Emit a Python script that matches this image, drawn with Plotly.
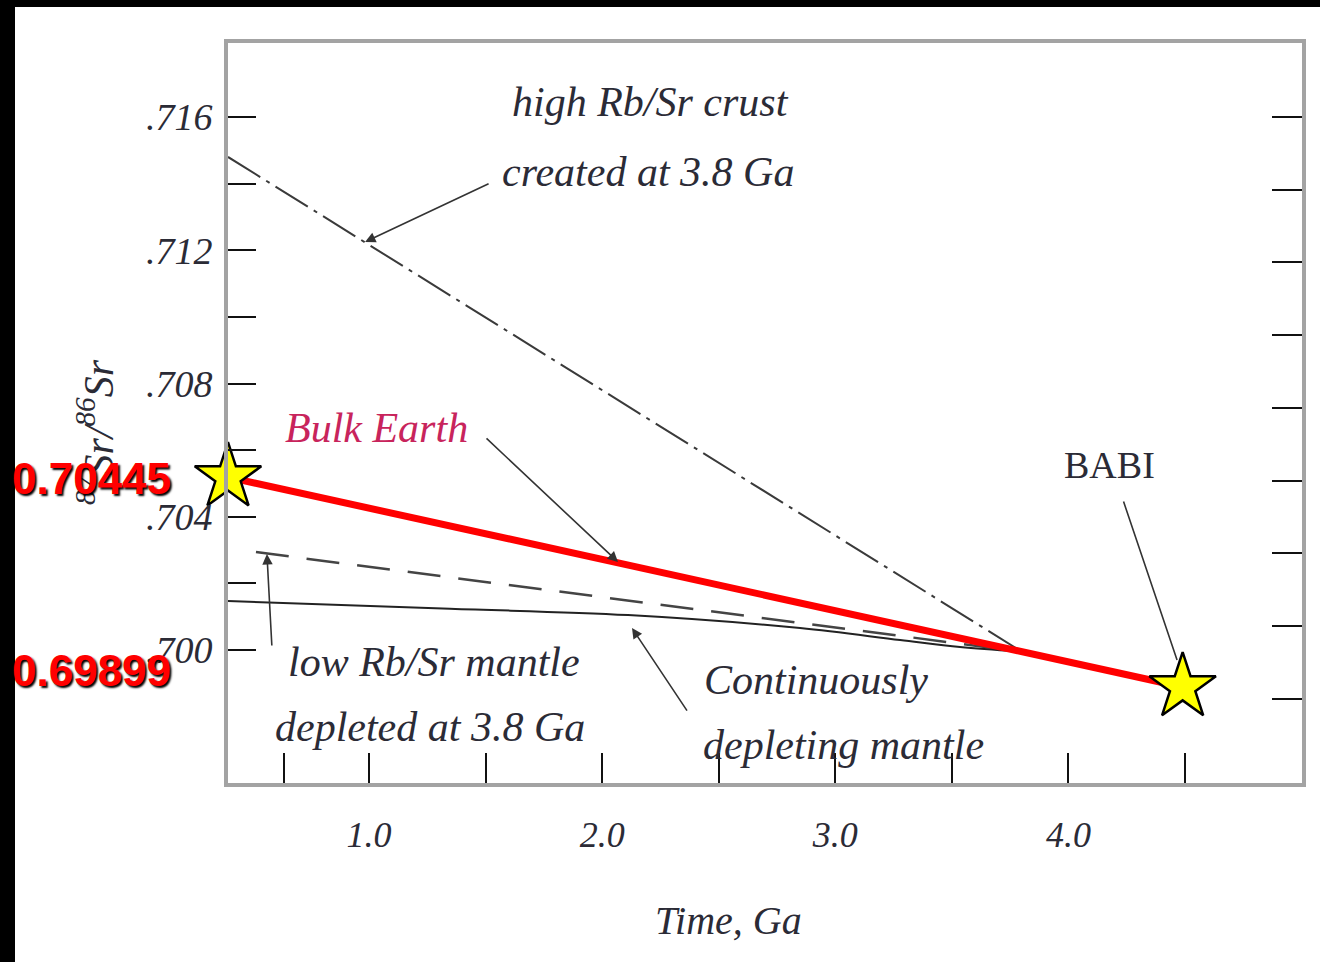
import plotly.graph_objects as go

# ---------------- data ----------------
crust_time = [0.395, 3.8]
crust_sr = [0.71480, 0.69995]

depleted_time = [0.515, 3.8]
depleted_sr = [0.70294, 0.69995]

cont_time = [0.395, 1.347, 2.111, 2.849, 3.278, 3.535, 3.8]
cont_sr = [0.70147, 0.70124, 0.70105, 0.70066, 0.70030, 0.70009, 0.69995]

bulk_time = [0.395, 4.49]
bulk_sr = [0.70519, 0.69889]
bulk_labels = ["0.70445", "0.69899"]

y_tickvals = [0.716, 0.714, 0.712, 0.710, 0.708, 0.706, 0.704, 0.702, 0.700]
y_ticktext = [".716", "", ".712", "", ".708", "", ".704", "", ".700"]
x_tickvals = [0.635, 1.0, 1.5, 2.0, 2.5, 3.0, 3.5, 4.0, 4.5]
x_ticktext = ["", "1.0", "", "2.0", "", "3.0", "", "4.0", ""]
right_tickvals = [0, 1, 2, 3, 4, 5, 6, 7, 8]

# ---------------- layout helpers ----------------
W, H = 1320, 962
L, R, T, B = 228, 1302, 43, 783


def px(x):
    return (x - L) / (R - L)


def py(y):
    return (B - y) / (B - T)


SERIF = "Liberation Serif"
INK = "#2b2b36"
ital = dict(family=SERIF, style="italic", color=INK)

fig = go.Figure()

fig.add_trace(go.Scatter(x=crust_time, y=crust_sr, mode="lines",
                         line=dict(color="#3a3a3a", width=2, dash="38px,7px,4px,7px"),
                         showlegend=False, hoverinfo="skip"))
fig.add_trace(go.Scatter(x=depleted_time, y=depleted_sr, mode="lines",
                         line=dict(color="#444444", width=2.5, dash="33px,18px"),
                         showlegend=False, hoverinfo="skip"))
fig.add_trace(go.Scatter(x=cont_time, y=cont_sr, mode="lines",
                         line=dict(color="#222222", width=2, shape="spline"),
                         showlegend=False, hoverinfo="skip"))
fig.add_trace(go.Scatter(x=bulk_time, y=bulk_sr, mode="lines",
                         line=dict(color="#ff0000", width=7),
                         showlegend=False, hoverinfo="skip"))
fig.add_trace(go.Scatter(x=bulk_time, y=bulk_sr, mode="markers", cliponaxis=False,
                         marker=dict(symbol="star", size=50, color="#ffff00",
                                     line=dict(color="#000000", width=2.5)),
                         showlegend=False, hoverinfo="skip"))
# carrier for the right-hand tick axis
fig.add_trace(go.Scatter(x=[], y=[], yaxis="y2", showlegend=False))

ann = []


def text(s, x, y, size=42, font=None, angle=0, xanchor="center"):
    f = dict(ital) if font is None else dict(font)
    f["size"] = size
    ann.append(dict(text=s, x=px(x), y=py(y), xref="paper", yref="paper",
                    showarrow=False, xanchor=xanchor, yanchor="middle",
                    font=f, textangle=angle))


def arrow(tx, ty, ax, ay, head=2):
    ann.append(dict(text="", x=tx, y=ty, xref="x", yref="y",
                    ax=ax, ay=ay, axref="pixel", ayref="pixel",
                    showarrow=True, arrowhead=head, arrowsize=1.3,
                    arrowwidth=1.6, arrowcolor="#333333"))


text("high Rb/Sr crust", 650, 102, 42)
text("created at 3.8 Ga", 648, 172, 42)
text("Bulk Earth", 376, 428, 42, font=dict(family=SERIF, style="italic", color="#c8245c"))
text("BABI", 1109, 465, 38, font=dict(family=SERIF, color=INK))
text("low Rb/Sr mantle", 434, 662, 42)
text("depleted at 3.8 Ga", 430, 727, 42)
text("Continuously", 816, 680, 42)
text("depleting mantle", 843, 745, 42)
text("Time, Ga", 728, 920, 40)
text("<sup>87</sup>Sr/<sup>86</sup>Sr", 95, 432, 42, angle=-90)

# arrows (tips in data units, tails as pixel offsets)
arrow(0.983, 0.712248, 125, -59)
arrow(2.068, 0.702642, -133, -125)
arrow(2.128, 0.700660, 56, 84)
arrow(0.562, 0.702882, 5, 93)
arrow(4.466, 0.699700, -54, -160, head=0)

# red value labels
red = dict(family="Liberation Sans", size=44, color="#ff0000", weight="bold",
           shadow="2px 2px 2px #000000")
for lab, yy in zip(bulk_labels, [478, 670]):
    ann.append(dict(text=lab, x=px(91), y=py(yy), xref="paper", yref="paper",
                    showarrow=False, xanchor="center", yanchor="middle", font=red))

fig.update_layout(
    width=W, height=H,
    margin=dict(l=L, r=W - R, t=T, b=H - B),
    paper_bgcolor="#000000",
    plot_bgcolor="#ffffff",
    annotations=ann,
    shapes=[dict(type="rect", xref="paper", yref="paper",
                 x0=px(15), x1=px(1320), y0=py(962), y1=py(7),
                 fillcolor="#ffffff", line=dict(width=0), layer="below")],
    xaxis=dict(range=[0.395, 5.002], showgrid=False, zeroline=False,
               showline=True, linecolor="#a3a3a3", linewidth=4, mirror=True,
               ticks="inside", ticklen=30, tickwidth=2, tickcolor="#111111",
               tickvals=x_tickvals, ticktext=x_ticktext,
               tickfont=dict(family=SERIF, style="italic", size=36, color=INK),
               ticklabelstandoff=17),
    yaxis=dict(range=[0.69601, 0.71822], showgrid=False, zeroline=False,
               showline=True, linecolor="#a3a3a3", linewidth=4, mirror=True,
               ticks="inside", ticklen=28, tickwidth=2, tickcolor="#111111",
               tickvals=y_tickvals, ticktext=y_ticktext,
               tickfont=dict(family=SERIF, style="italic", size=38, color=INK),
               ticklabelstandoff=4),
    yaxis2=dict(overlaying="y", side="right", range=[-1.155, 9.017],
                showgrid=False, zeroline=False, showline=False,
                ticks="inside", ticklen=30, tickwidth=2, tickcolor="#111111",
                tickvals=right_tickvals, showticklabels=False),
)

fig.write_html("out.html", config={"displayModeBar": False},
               post_script="document.body.style.margin='0';document.body.style.background='#000';")
